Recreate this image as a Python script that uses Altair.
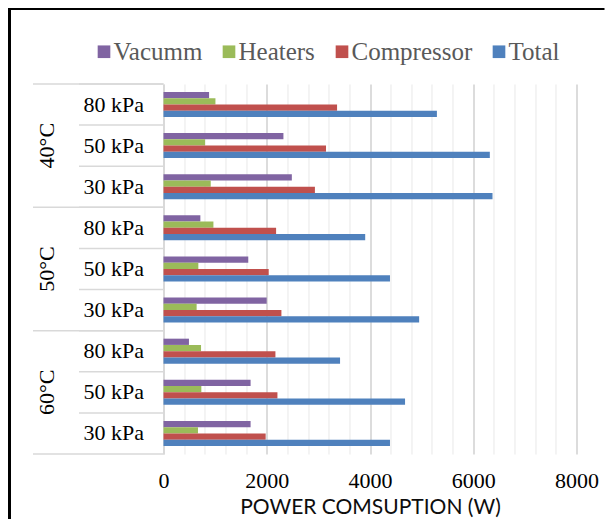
import altair as alt
import pandas as pd

temps = ["40°C", "50°C", "60°C"]
pressures = ["80 kPa", "50 kPa", "30 kPa"]
series = ["Vacumm", "Heaters", "Compressor", "Total"]
colors = ["#8064A2", "#9BBB59", "#C0504D", "#4F81BD"]

vacumm = [883, 2323, 2486, 714, 1642, 1999, 493, 1687, 1687]
heaters = [1006, 805, 915, 967, 675, 642, 727, 733, 668]
compressor = [3362, 3148, 2933, 2181, 2038, 2284, 2168, 2207, 1979]
total = [5296, 6321, 6373, 3907, 4387, 4952, 3420, 4679, 4387]

grid_values = list(range(0, 8001, 400))
x_title = "POWER COMSUPTION (W)"

serif = "Liberation Serif"
sans = "Lato"

cats = [f"{t}|{p}" for t in temps for p in pressures]
vals = {"Vacumm": vacumm, "Heaters": heaters, "Compressor": compressor, "Total": total}
rows = []
for s in series:
    for c, v in zip(cats, vals[s]):
        rows.append({"cat": c, "series": s, "value": v})
df = pd.DataFrame(rows)

ysc = alt.Scale(domain=cats, paddingInner=0, paddingOuter=0)
y_axis = alt.Axis(
    title=None,
    labelExpr="split(datum.value, '|')[1]",
    ticks=False,
    grid=False,
    domainColor="#d9d9d9",
    domainWidth=1.5,
    labelFont=serif,
    labelFontSize=22,
    labelColor="#000000",
    labelPadding=20,
    labelLimit=300,
)

bars = alt.Chart(df).mark_bar().encode(
    x=alt.X(
        "value:Q",
        scale=alt.Scale(domain=[0, 8000], nice=False, zero=True),
        axis=alt.Axis(
            values=grid_values,
            format="d",
            labelExpr="datum.value % 2000 === 0 ? datum.label : ''",
            ticks=False,
            domain=False,
            grid=True,
            gridColor=alt.condition("datum.value % 2000 === 0", alt.value("#d4d4d4"), alt.value("#ececec")),
            gridWidth=alt.condition("datum.value % 2000 === 0", alt.value(1.6), alt.value(1.2)),
            labelFont=serif,
            labelFontSize=22,
            labelColor="#000000",
            labelPadding=16,
            labelFlush=False,
            titleFont=sans,
            titleFontSize=21,
            titleFontWeight="normal",
            titleColor="#0d0d0d",
            titlePadding=5,
        ),
        title=x_title,
    ),
    y=alt.Y("cat:N", scale=ysc, axis=y_axis),
    yOffset=alt.YOffset("series:N", scale=alt.Scale(domain=series, range=[8, 33])),
    color=alt.Color(
        "series:N",
        scale=alt.Scale(domain=series, range=colors),
        legend=alt.Legend(
            orient="none",
            legendX=-72,
            legendY=-45,
            direction="horizontal",
            columns=4,
            title=None,
            padding=0,
            symbolType="square",
            symbolSize=160,
            symbolStrokeWidth=0,
            labelFont=serif,
            labelFontSize=25,
            labelColor="#595959",
            labelOffset={"expr": "-3"},
            columnPadding=14,
        ),
    ),
)

line_color = "#d9d9d9"
cat_df = pd.DataFrame({"cat": cats})
short_top = alt.Chart(cat_df).mark_rule(color=line_color, strokeWidth=1.5).encode(
    y=alt.Y("cat:N", bandPosition=0, scale=ysc, axis=y_axis),
    x=alt.value(-84.5), x2=alt.value(0),
)
last_df = pd.DataFrame({"cat": [cats[-1]]})
short_bottom = alt.Chart(last_df).mark_rule(color=line_color, strokeWidth=1.5).encode(
    y=alt.Y("cat:N", bandPosition=1, scale=ysc, axis=y_axis),
    x=alt.value(-130.5), x2=alt.value(0),
)
group_df = pd.DataFrame({"cat": [cats[0], cats[3], cats[6]]})
long_top = alt.Chart(group_df).mark_rule(color=line_color, strokeWidth=1.5).encode(
    y=alt.Y("cat:N", bandPosition=0, scale=ysc, axis=y_axis),
    x=alt.value(-130.5), x2=alt.value(0),
)

temp_df = pd.DataFrame({"cat": [cats[1], cats[4], cats[7]], "temp": temps})
temp_text = alt.Chart(temp_df).mark_text(
    angle=270, font=serif, fontSize=22, align="center", baseline="middle", color="#000000"
).encode(
    y=alt.Y("cat:N", scale=ysc, axis=y_axis),
    x=alt.value(-116.5),
    text="temp:N",
)

one = pd.DataFrame({"a": [0]})
frame_left = alt.Chart(one).mark_rule(color="black", strokeWidth=3).encode(
    x=alt.value(-154), y=alt.value(-76), y2=alt.value(436)
)
frame_top = alt.Chart(one).mark_rule(color="black", strokeWidth=2).encode(
    x=alt.value(-155.5), x2=alt.value(441), y=alt.value(-75)
)

chart = alt.layer(
    bars, short_top, short_bottom, long_top, temp_text, frame_left, frame_top
).properties(
    width=413,
    height=370,
    autosize="none",
    padding={"left": 155.5, "top": 76, "right": 28, "bottom": 65},
    background="white",
).configure_view(stroke=None)

chart.save("out.html", embed_options={"renderer": "svg", "actions": False})
